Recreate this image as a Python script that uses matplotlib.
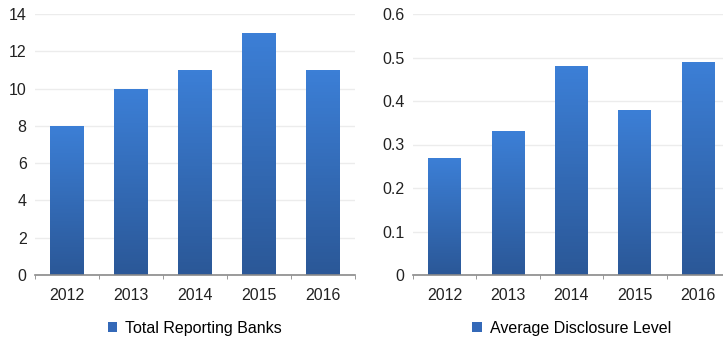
import numpy as np
import matplotlib.pyplot as plt
from matplotlib.patches import Patch
from matplotlib.colors import LinearSegmentedColormap

plt.rcParams['font.family'] = ['Liberation Sans', 'DejaVu Sans']

years = ['2012', '2013', '2014', '2015', '2016']
reporting_banks = [8, 10, 11, 13, 11]
disclosure_level = [0.27, 0.33, 0.48, 0.38, 0.49]

top_blue = '#3c7fd6'
bottom_blue = '#2b5898'
grad = LinearSegmentedColormap.from_list('barblue', [bottom_blue, top_blue])


def gradient_bars(ax, values, ymax, yticks, label):
    x = np.arange(len(values))
    bars = ax.bar(x, values, width=0.52, color='none', edgecolor='none', zorder=2)
    for b in bars:
        x0, w, h = b.get_x(), b.get_width(), b.get_height()
        img = ax.imshow(np.linspace(0, 1, 64).reshape(-1, 1), cmap=grad, origin='lower',
                        extent=[x0, x0 + w, 0, h], aspect='auto', zorder=2)
        img.set_clip_path(b)
    ax.set_xlim(-0.5, len(values) - 0.5)
    ax.set_ylim(0, ymax)
    ax.set_yticks(yticks)
    ax.set_yticklabels([('%g' % t) for t in yticks])
    ax.set_xticks(x)
    ax.set_xticklabels(years)
    ax.set_xticks(np.arange(len(values) + 1) - 0.5, minor=True)
    ax.tick_params(axis='x', which='major', length=0, pad=9, labelsize=11.5, colors='#222222')
    ax.tick_params(axis='x', which='minor', length=3, color='#888888', direction='out')
    ax.tick_params(axis='y', length=0, pad=6, labelsize=11.5, colors='#222222')
    ax.grid(axis='y', color='#ececec', linewidth=1, zorder=0)
    ax.set_axisbelow(True)
    for s in ['top', 'right', 'left']:
        ax.spines[s].set_visible(False)
    ax.spines['bottom'].set_color('#8a8a8a')
    ax.spines['bottom'].set_linewidth(1.2)
    handle = Patch(facecolor='#3469b8', edgecolor='none', label=label)
    ax.legend(handles=[handle], loc='upper center', bbox_to_anchor=(0.5, -0.12),
              frameon=False, handlelength=0.6, handleheight=0.6, handletextpad=0.5,
              fontsize=11.5)


fig = plt.figure(figsize=(7.23, 3.39), dpi=100)
ax1 = fig.add_axes([35 / 723, 64 / 339, 320 / 723, 261 / 339])
ax2 = fig.add_axes([413 / 723, 64 / 339, 317 / 723, 261 / 339])

gradient_bars(ax1, reporting_banks, 14, [0, 2, 4, 6, 8, 10, 12, 14], 'Total Reporting Banks')
gradient_bars(ax2, disclosure_level, 0.6, [0, 0.1, 0.2, 0.3, 0.4, 0.5, 0.6], 'Average Disclosure Level')

fig.savefig('out.png', dpi=100)
